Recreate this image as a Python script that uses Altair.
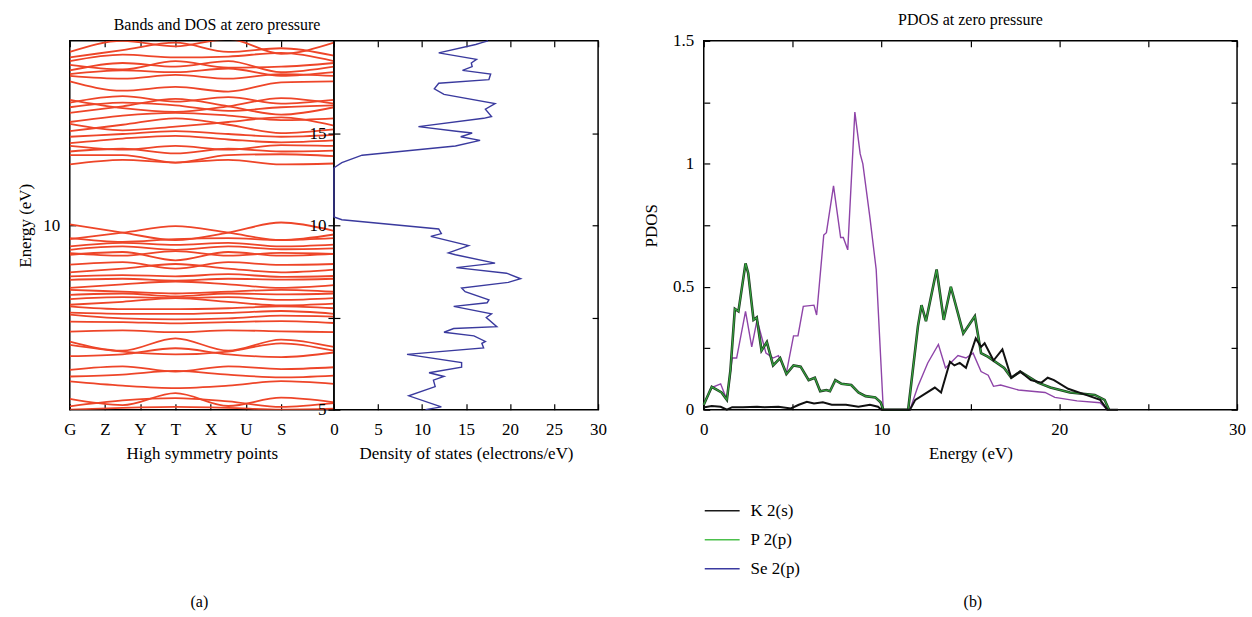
import altair as alt
import pandas as pd

FONT = "Liberation Serif"

# ---------------- band structure (energies in eV at k nodes) ----------------
kpoint_names = ["G", "Z", "Y", "T", "X", "U", "S"]
kpoint_pos = [0, 1, 2, 3, 4, 5, 6]
band_k = [0, 1.5, 3, 4.5, 6, 7.5]

conduction_bands = [
    [19.4, 20.0, 19.7, 20.1, 19.3, 19.9],
    [19.1, 19.5, 19.9, 19.4, 19.6, 19.2],
    [18.9, 19.25, 19.1, 19.15, 19.35, 18.9],
    [18.7, 18.45, 18.9, 18.55, 18.6, 18.8],
    [18.4, 18.8, 18.6, 18.9, 18.3, 18.6],
    [18.2, 18.4, 18.3, 18.5, 18.1, 18.3],
    [18.1, 17.95, 18.15, 17.95, 18.2, 18.1],
    [17.8, 17.3, 17.5, 17.25, 17.75, 17.8],
    [16.8, 16.35, 16.15, 16.45, 16.9, 16.6],
    [16.65, 17.0, 16.7, 16.95, 16.6, 16.8],
    [16.4, 16.65, 16.5, 16.2, 16.4, 16.5],
    [16.1, 16.45, 16.85, 16.45, 16.0, 16.4],
    [15.6, 15.95, 16.1, 15.95, 15.7, 15.8],
    [15.5, 15.15, 15.35, 15.6, 15.85, 15.4],
    [15.1, 15.45, 15.8, 15.45, 15.0, 15.2],
    [14.8, 14.95, 15.1, 14.95, 14.8, 14.9],
    [14.45, 14.7, 14.85, 14.65, 14.5, 14.6],
    [14.3, 14.1, 14.3, 14.1, 14.35, 14.3],
    [14.0, 14.15, 13.9, 14.15, 14.0, 14.05],
    [13.8, 13.8, 13.4, 13.8, 13.85, 13.75],
    [13.3, 13.55, 13.4, 13.55, 13.3, 13.35],
]

valence_bands = [
    [10.05, 9.6, 9.2, 9.6, 10.15, 9.7],
    [9.25, 9.6, 9.95, 9.6, 9.2, 9.5],
    [9.3, 9.1, 9.25, 9.3, 9.2, 9.3],
    [8.85, 9.05, 8.94, 9.05, 8.85, 8.95],
    [8.67, 8.85, 8.67, 8.85, 8.7, 8.75],
    [8.49, 8.35, 8.6, 8.35, 8.5, 8.45],
    [8.4, 8.55, 8.1, 8.55, 8.35, 8.45],
    [7.86, 8.0, 7.65, 8.0, 7.85, 7.9],
    [7.45, 7.65, 7.9, 7.65, 7.45, 7.6],
    [7.23, 7.3, 7.23, 7.35, 7.2, 7.25],
    [7.04, 7.1, 7.0, 7.1, 7.05, 7.1],
    [6.6, 6.8, 6.95, 6.8, 6.6, 6.75],
    [6.5, 6.4, 6.3, 6.4, 6.5, 6.4],
    [6.23, 6.3, 6.14, 6.3, 6.25, 6.3],
    [6.0, 6.1, 6.05, 6.1, 5.95, 6.05],
    [5.69, 5.85, 6.05, 5.85, 5.65, 5.75],
    [5.6, 5.45, 5.45, 5.5, 5.6, 5.5],
    [5.26, 5.2, 5.19, 5.25, 5.35, 5.2],
    [5.15, 4.95, 4.9, 4.95, 5.1, 5.05],
    [4.77, 4.75, 4.68, 4.75, 4.8, 4.7],
    [4.23, 4.3, 4.2, 4.3, 4.25, 4.2],
    [3.69, 3.2, 3.87, 3.2, 3.8, 3.4],
    [3.51, 3.15, 3.0, 3.15, 3.6, 3.2],
    [2.9, 3.0, 3.33, 3.0, 2.85, 3.1],
    [2.16, 2.35, 2.07, 2.35, 2.2, 2.3],
    [1.8, 1.9, 2.1, 1.9, 1.75, 1.85],
    [1.53, 1.3, 1.17, 1.3, 1.55, 1.4],
    [0.58, 0.25, 0.9, 0.2, 0.65, 0.4],
    [0.18, 0.5, 0.63, 0.45, 0.15, 0.35],
    [0.0, 0.1, 0.15, 0.1, 0.0, 0.05],
]

# ---------------- total DOS ----------------
dos_energy = [0.0, 0.15, 0.75, 1.25, 1.6, 1.8, 2.0, 2.3, 2.55, 3.0, 3.35, 3.6, 3.7,
              4.0, 4.2, 4.4, 4.5, 5.0, 5.2, 5.6, 5.8, 5.95, 6.4, 6.6, 6.9, 7.1, 7.4,
              7.7, 7.95, 8.4, 8.5, 8.9, 9.4, 9.55, 9.8, 10.3, 10.45, 13.1, 13.15,
              13.4, 13.8, 14.3, 14.6, 14.8, 15.0, 15.1, 15.35, 15.8, 15.9, 16.3, 16.6,
              17.1, 17.4, 17.7, 17.9, 18.2, 18.4, 18.6, 18.8, 19.0, 19.35, 19.8, 19.9, 20.0]
dos_states = [10.4, 12.2, 8.5, 11.5, 11.3, 12.5, 10.8, 14.5, 14.5, 8.3, 17.0, 16.8, 17.2,
              15.9, 12.5, 13.6, 18.5, 17.3, 17.9, 13.6, 17.4, 17.6, 14.9, 14.5, 19.8, 21.2, 19.6,
              13.9, 18.3, 13.8, 13.0, 15.3, 11.0, 12.2, 11.9, 0.9, 0.0, 0.0, 0.1,
              0.9, 3.2, 13.8, 16.6, 14.4, 15.7, 13.9, 9.6, 17.0, 17.9, 17.2, 18.3,
              12.5, 11.4, 11.9, 17.6, 17.8, 14.6, 15.7, 15.6, 16.2, 11.9, 16.1, 16.8, 17.5]

# ---------------- PDOS ----------------
series_names = ["K 2(s)", "P 2(p)", "Se 2(p)"]
legend_colors = ["#1a1a1a", "#4cc04c", "#3a3aa0"]

k_energy = [0.05, 0.45, 0.95, 1.3, 1.6, 2.2, 3.0, 3.4, 4.2, 4.9, 5.35, 5.8, 6.2, 6.7, 7.2,
            8.0, 8.7, 9.35, 9.8, 10.0, 11.6, 11.9, 12.35, 13.0, 13.35, 13.85, 14.1, 14.4,
            14.75, 15.3, 15.6, 15.8, 16.3, 16.8, 17.3, 17.8, 18.4, 19.0, 19.35, 19.7, 20.5,
            21.5, 22.3, 22.7, 23.3]
k_pdos = [0.01, 0.015, 0.012, 0.0, 0.01, 0.01, 0.012, 0.01, 0.012, 0.005, 0.02, 0.032, 0.025,
          0.03, 0.02, 0.02, 0.012, 0.02, 0.012, 0.0, 0.0, 0.04, 0.06, 0.09, 0.07, 0.195, 0.18,
          0.19, 0.17, 0.29, 0.255, 0.27, 0.20, 0.245, 0.13, 0.155, 0.12, 0.11, 0.13, 0.12,
          0.085, 0.06, 0.04, 0.0, 0.0]

p_energy = [0.0, 0.45, 1.0, 1.3, 1.5, 1.75, 1.95, 2.35, 2.5, 2.8, 2.98, 3.25, 3.55, 3.9, 4.3,
            4.65, 5.05, 5.45, 5.9, 6.25, 6.55, 6.9, 7.1, 7.4, 7.75, 8.3, 8.7, 9.1, 9.65, 9.95,
            10.1, 11.5, 12.05, 12.25, 12.5, 13.1, 13.5, 13.9, 14.6, 15.25, 15.6, 16.0, 16.9,
            17.3, 17.8, 18.8, 19.5, 20.6, 22.0, 22.55, 22.8]
p_pdos = [0.02, 0.093, 0.07, 0.04, 0.16, 0.41, 0.40, 0.595, 0.555, 0.365, 0.375, 0.24, 0.275,
          0.18, 0.21, 0.145, 0.18, 0.175, 0.12, 0.13, 0.075, 0.08, 0.075, 0.12, 0.105, 0.10,
          0.07, 0.055, 0.05, 0.03, 0.0, 0.0, 0.34, 0.425, 0.36, 0.57, 0.365, 0.50, 0.31, 0.38,
          0.23, 0.215, 0.17, 0.13, 0.155, 0.11, 0.09, 0.07, 0.06, 0.04, 0.0]

se_energy = [0.0, 0.45, 0.95, 1.3, 1.6, 1.85, 2.35, 2.7, 3.0, 3.5, 3.9, 4.2, 4.65, 5.05, 5.3,
             5.6, 6.2, 6.35, 6.75, 6.9, 7.3, 7.7, 7.85, 8.1, 8.5, 8.8, 8.95, 9.35, 9.7, 10.1,
             11.6, 12.05, 12.6, 13.2, 13.6, 14.3, 14.75, 15.15, 15.6, 16.0, 16.3, 16.7, 17.7,
             19.2, 19.75, 21.0, 22.3, 22.7]
se_pdos = [0.02, 0.09, 0.105, 0.04, 0.21, 0.21, 0.40, 0.255, 0.365, 0.23, 0.21, 0.22, 0.15,
           0.30, 0.30, 0.42, 0.425, 0.385, 0.71, 0.72, 0.91, 0.70, 0.70, 0.65, 1.21, 1.04, 1.0,
           0.78, 0.57, 0.0, 0.0, 0.095, 0.19, 0.265, 0.17, 0.22, 0.21, 0.23, 0.155, 0.14,
           0.095, 0.10, 0.08, 0.07, 0.05, 0.036, 0.028, 0.0]

dos_tick_values = [0, 5, 10, 15]
dos_tick_text = ["5", "", "10", "15"]
panel_labels = ["(a)", "(b)"]

# ---------------- data frames ----------------
rows = []
for i, band in enumerate(conduction_bands + valence_bands):
    for k, e in zip(band_k, band):
        rows.append({"band": i, "k": k, "E": e})
bands_df = pd.DataFrame(rows)
dos_df = pd.DataFrame({"E": dos_energy, "dos": dos_states})
k_df = pd.DataFrame({"E": k_energy, "v": k_pdos})
p_df = pd.DataFrame({"E": p_energy, "v": p_pdos})
se_df = pd.DataFrame({"E": se_energy, "v": se_pdos})

W1, W3, H = 265, 535, 370
TICK = 6


def ax(**kw):
    base = dict(offset=-TICK, tickSize=TICK, domain=False, grid=False, labelFlush=False,
                labelFont=FONT, labelFontSize=17, labelColor="black",
                titleFont=FONT, titleFontSize=17, titleFontWeight="normal", titleColor="black",
                tickColor="black", tickWidth=1.2)
    base.update(kw)
    return alt.Axis(**base)


E_scale = alt.Scale(domain=[0, 20], nice=False, zero=False)
k_scale = alt.Scale(domain=[0, 7.5], nice=False, zero=False)
dos_scale = alt.Scale(domain=[0, 30], nice=False)
pe_scale = alt.Scale(domain=[0, 30], nice=False)
pv_scale = alt.Scale(domain=[0, 1.5], nice=False)

# ---------------- band panel ----------------
kname_expr = "[" + ",".join("'%s'" % n for n in kpoint_names) + "][datum.value]"
band_lines = alt.Chart(bands_df).mark_line(
    color="#ee4528", strokeWidth=1.8, interpolate="monotone", clip=True
).encode(
    x=alt.X("k:Q", scale=k_scale,
            axis=ax(values=kpoint_pos, labelExpr=kname_expr, labelPadding=12,
                    title="High symmetry points", titlePadding=8)),
    y=alt.Y("E:Q", scale=E_scale,
            axis=ax(values=[10], labelPadding=10, title="Energy (eV)", titlePadding=8)),
    detail="band:N",
)
kp_df = pd.DataFrame({"t": kpoint_pos})
band_top = alt.Chart(kp_df).mark_point(opacity=0).encode(
    x=alt.X("t:Q", scale=k_scale, axis=ax(orient="top", values=kpoint_pos, labels=False, title=None)),
    y=alt.value(0),
)
lab_a = alt.Chart(pd.DataFrame({"t": [panel_labels[0]]})).mark_text(
    font=FONT, fontSize=16, color="black"
).encode(text="t:N", x=alt.value(130), y=alt.value(563))
bands_chart = alt.layer(band_lines, band_top, lab_a).resolve_axis(x="independent").properties(
    width=W1, height=H)

# ---------------- DOS panel ----------------
dos_expr = "[" + ",".join("'%s'" % s for s in dos_tick_text) + "][indexof([" + \
    ",".join(str(v) for v in dos_tick_values) + "], datum.value)]"
dos_line = alt.Chart(dos_df).mark_line(color="#3a3a9e", strokeWidth=1.4).encode(
    x=alt.X("dos:Q", scale=dos_scale,
            axis=ax(values=list(range(0, 31, 5)), labelPadding=12,
                    title="Density of states (electrons/eV)", titlePadding=8)),
    y=alt.Y("E:Q", scale=E_scale,
            axis=ax(values=dos_tick_values, labelExpr=dos_expr, tickSize=2 * TICK,
                    labelPadding=2, title=None)),
    order="E:Q",
)
dt_df = pd.DataFrame({"t": list(range(0, 31, 5))})
dos_top = alt.Chart(dt_df).mark_point(opacity=0).encode(
    x=alt.X("t:Q", scale=dos_scale, axis=ax(orient="top", values=list(range(0, 31, 5)),
                                             labels=False, title=None)),
    y=alt.value(0),
)
dr_df = pd.DataFrame({"t": [5, 10, 15]})
dos_right = alt.Chart(dr_df).mark_point(opacity=0).encode(
    y=alt.Y("t:Q", scale=E_scale, axis=ax(orient="right", values=[5, 10, 15],
                                           labels=False, title=None)),
    x=alt.value(0),
)
dos_chart = alt.layer(dos_line, dos_top, dos_right).resolve_axis(
    x="independent", y="independent").properties(width=W1, height=H)

left = alt.hconcat(
    bands_chart, dos_chart, spacing=0, bounds="flush",
    title=alt.TitleParams("Bands and DOS at zero pressure", anchor="middle", dx=-95, font=FONT,
                          fontSize=16, fontWeight="normal", color="black"),
)

# ---------------- PDOS panel ----------------
pe_ticks = list(range(0, 31, 5))
pv_ticks = [0, 0.25, 0.5, 0.75, 1.0, 1.25, 1.5]
pe_axis = ax(values=pe_ticks, labelExpr="datum.value % 10 == 0 ? datum.label : ''",
             labelPadding=12, title="Energy (eV)", titlePadding=8)
pv_axis = ax(values=pv_ticks,
             labelExpr="(datum.value * 2) % 1 == 0 ? format(datum.value, '~g') : ''",
             labelPadding=10, title="PDOS", titlePadding=12)


def pline(df, color, width, with_axis=False):
    return alt.Chart(df).mark_line(color=color, strokeWidth=width).encode(
        x=alt.X("E:Q", scale=pe_scale, axis=pe_axis if with_axis else None),
        y=alt.Y("v:Q", scale=pv_scale, axis=pv_axis if with_axis else None),
    )


se_line = pline(se_df, "#8e44a8", 1.4, with_axis=True)
p_under = pline(p_df, "#1f3a22", 2.6)
p_line = pline(p_df, "#35a83e", 1.1)
k_line = pline(k_df, "#111111", 2.0)

legend_df = pd.DataFrame({"series": series_names, "E": [0, 0, 0], "v": [0, 0, 0]})
legend_layer = alt.Chart(legend_df).mark_line().encode(
    x=alt.X("E:Q", scale=pe_scale, axis=None),
    y=alt.Y("v:Q", scale=pv_scale, axis=None),
    color=alt.Color("series:N",
                    scale=alt.Scale(domain=series_names, range=legend_colors),
                    sort=series_names,
                    legend=alt.Legend(title=None, orient="none", legendX=0, legendY=453,
                                      symbolType="stroke", symbolSize=1225, symbolStrokeWidth=1.5,
                                      symbolOpacity=1, labelFont=FONT, labelFontSize=17,
                                      labelColor="black", labelOffset=10, rowPadding=2,
                                      padding=0)),
)
pt_df = pd.DataFrame({"t": pe_ticks})
p_top = alt.Chart(pt_df).mark_point(opacity=0).encode(
    x=alt.X("t:Q", scale=pe_scale, axis=ax(orient="top", values=pe_ticks, labels=False, title=None)),
    y=alt.value(0),
)
pr_df = pd.DataFrame({"t": pv_ticks})
p_right = alt.Chart(pr_df).mark_point(opacity=0).encode(
    y=alt.Y("t:Q", scale=pv_scale, axis=ax(orient="right", values=pv_ticks, labels=False, title=None)),
    x=alt.value(0),
)
lab_b = alt.Chart(pd.DataFrame({"t": [panel_labels[1]]})).mark_text(
    font=FONT, fontSize=16, color="black"
).encode(text="t:N", x=alt.value(270), y=alt.value(563))

pdos_chart = alt.layer(se_line, p_under, p_line, k_line, legend_layer, p_top, p_right, lab_b).resolve_axis(
    x="independent", y="independent").properties(
    width=W3, height=H,
    title=alt.TitleParams("PDOS at zero pressure", font=FONT, fontSize=16,
                          fontWeight="normal", color="black"),
)

chart = alt.hconcat(left, pdos_chart, spacing=34).resolve_scale(color="independent").properties(
    padding={"left": 16, "top": 10, "right": 5, "bottom": 5}
).configure_view(stroke="black", strokeWidth=1.5)

chart.save("out.html", embed_options={"renderer": "svg", "actions": False})
